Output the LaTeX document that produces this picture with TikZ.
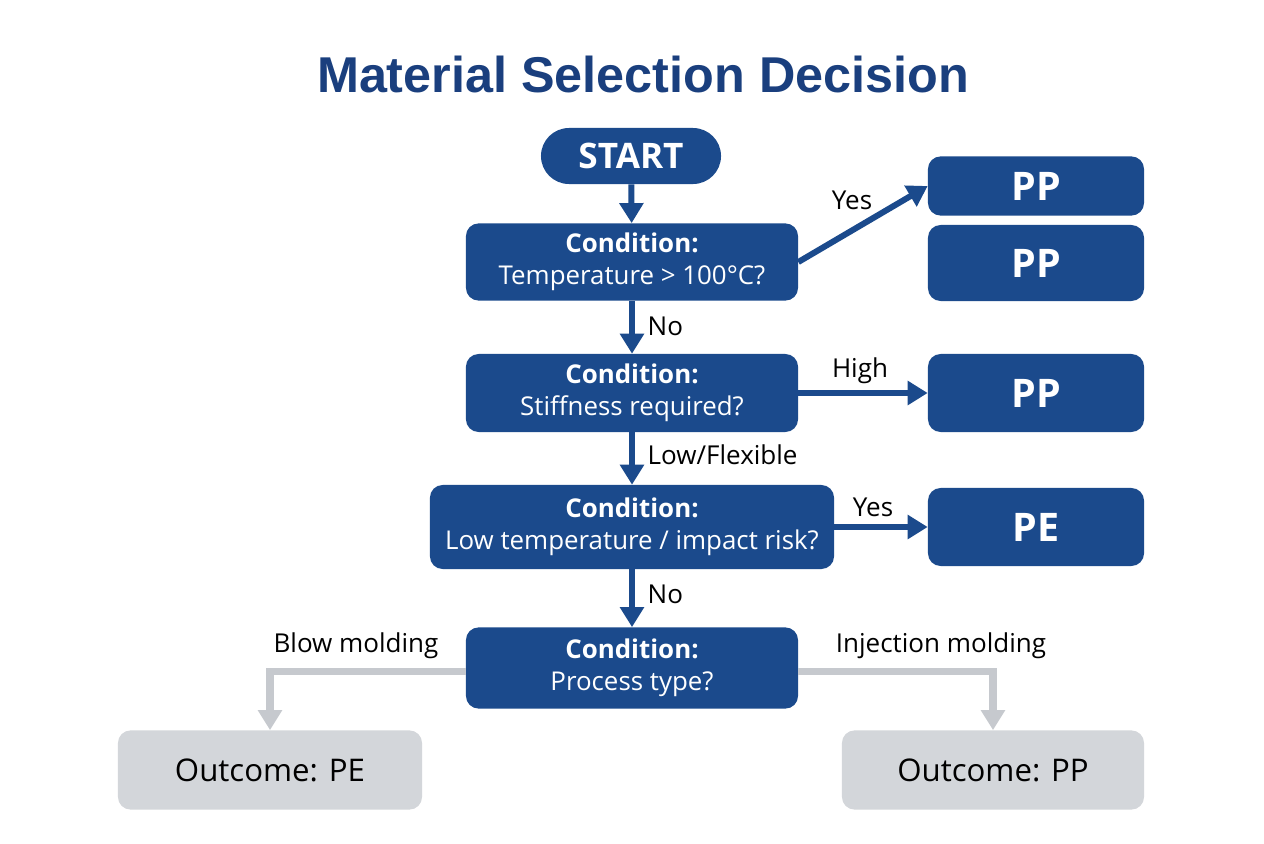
\documentclass[tikz,border=0pt]{standalone}
\usepackage{fontspec}
\setmainfont{Open Sans}
\newfontfamily\titlefont{Liberation Sans}
\usetikzlibrary{arrows.meta, positioning}
\definecolor{navy}{HTML}{1B4A8C}
\definecolor{titleblue}{HTML}{1A3F7E}
\definecolor{paleg}{HTML}{D3D6DA}
\definecolor{lineg}{HTML}{C6C9CE}

\begin{document}
\begin{tikzpicture}[
  x=0.025cm, y=-0.025cm,
  cond/.style={fill=navy, text=white, rounded corners=9pt, align=center,
               font=\fontsize{18.4}{23}\selectfont, inner sep=2pt},
  res/.style={fill=navy, text=white, rounded corners=9pt, align=center,
              font=\fontsize{28}{32}\selectfont\bfseries,
              minimum width=5.4cm, inner sep=0pt},
  outc/.style={fill=paleg, text=black, rounded corners=9pt, align=center,
               font=\fontsize{22.2}{26}\selectfont, minimum height=1.98cm, inner sep=0pt},
  lbl/.style={font=\fontsize{18.5}{22}\selectfont, inner sep=1pt},
  arr/.style={-{Triangle[length=0.5cm, width=0.58cm]}, navy, line width=0.15cm},
  garr/.style={-{Triangle[length=0.5cm, width=0.58cm]}, lineg, line width=0.18cm}
]
\useasboundingbox[fill=white] (0,0) rectangle (1264,843);

\node[font=\titlefont\fontsize{35.8}{42}\selectfont\bfseries, text=titleblue] (title) at (643,75)
  {Material Selection Decision};

\node[fill=navy, text=white, rounded corners=0.7cm, minimum width=4.5cm, minimum height=1.4cm,
      font=\fontsize{25}{30}\selectfont\bfseries, inner sep=0pt] (start) at (631,156) {START};
\node[cond, minimum width=8.3cm, minimum height=1.93cm] (temp) at (632,262)
  {\textbf{Condition:}\\Temperature > 100°C?};
\node[cond, minimum width=8.3cm, minimum height=1.95cm] (stiff) at (632,393)
  {\textbf{Condition:}\\Stiffness required?};
\node[cond, minimum width=10.1cm, minimum height=2.1cm] (impact) at (632,527)
  {\textbf{Condition:}\\Low temperature / impact risk?};
\node[cond, minimum width=8.3cm, minimum height=2.03cm] (proc) at (632,668)
  {\textbf{Condition:}\\Process type?};

\node[res, minimum height=1.48cm] (pp1) at (1036,186) {PP};
\node[res, minimum height=1.9cm] (pp2) at (1036,263) {PP};
\node[res, minimum height=1.95cm] (pp3) at (1036,393) {PP};
\node[res, minimum height=1.95cm] (pe) at (1036,527) {PE};

\node[outc, minimum width=7.6cm] (outpe) at (270,770) {Outcome: PE};
\node[outc, minimum width=7.55cm] (outpp) at (993,770) {Outcome: PP};

% main path
\draw[arr] (start) -- (temp);
\draw[arr] (temp.east) -- (pp1.west);
\draw[arr] (temp) -- (stiff);
\draw[arr] (stiff) -- (pp3);
\draw[arr] (stiff) -- (impact);
\draw[arr] (impact) -- (pe);
\draw[arr] (impact) -- (proc);
% process branches
\draw[garr] ([yshift=-0.08cm]proc.west) -| (outpe.north);
\draw[garr] ([yshift=-0.08cm]proc.east) -| (outpp.north);

\node[lbl] (lyes1) at (852,200) {Yes};
\node[lbl, anchor=west] (lno1) at (646,326) {No};
\node[lbl] (lhigh) at (860,371) {High};
\node[lbl, anchor=west] (llow) at (646,455) {Low/Flexible};
\node[lbl] (lyes2) at (873,507) {Yes};
\node[lbl, anchor=west] (lno2) at (646,594) {No};
\node[lbl] (lblow) at (356,646) {Blow molding};
\node[lbl] (linj) at (941,646) {Injection molding};
\end{tikzpicture}
\end{document}
